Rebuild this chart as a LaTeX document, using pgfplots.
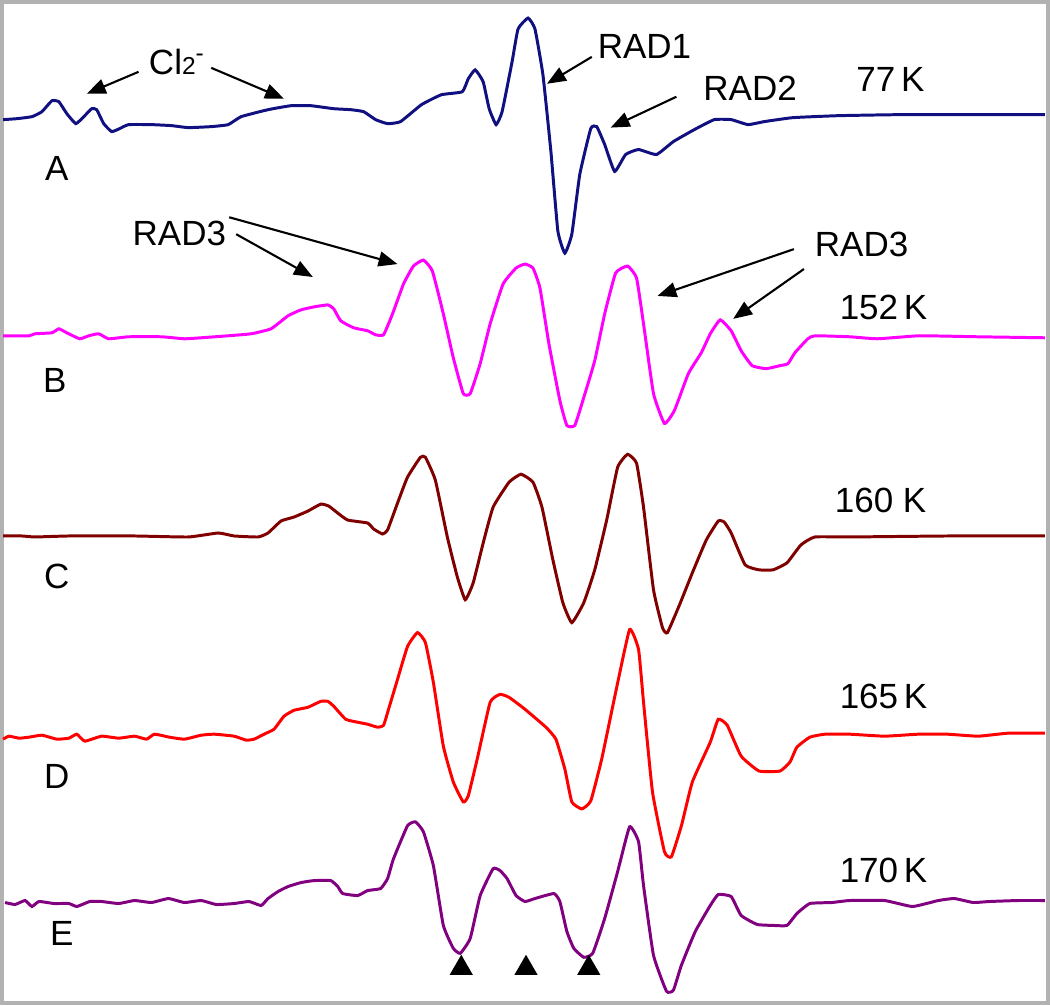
\documentclass[border=0pt]{standalone}
\usepackage{pgfplots}
\pgfplotsset{compat=1.18}
\usepackage{fontspec}
\setmainfont{Liberation Sans}
\usetikzlibrary{arrows.meta}
\definecolor{traceA}{RGB}{16,16,128}
\definecolor{traceB}{RGB}{255,0,255}
\definecolor{traceC}{RGB}{128,0,0}
\definecolor{traceD}{RGB}{255,0,0}
\definecolor{traceE}{RGB}{128,0,128}
\begin{document}
\begin{tikzpicture}
\begin{axis}[
    scale only axis,
    width=10.5cm, height=10.05cm,
    xmin=0, xmax=1050, ymin=0, ymax=1005,
    y dir=reverse,
    xtick=\empty, ytick=\empty,
    axis line style={gray!60, line width=1.2pt},
    clip=true,
    every axis plot/.append style={line width=0.85pt, smooth, tension=0.25},
    font=\fontsize{10}{12}\selectfont,
]
% A, 77 K
\addplot[traceA] coordinates {
 (1,118) (15,117) (30,115) (40,110) (50,99) (57,100) (65,112) (74,122) (82,115)
 (90,107) (95,108) (102,122) (110,130) (118,127) (127,123) (150,123) (170,124)
 (187,126) (210,125) (227,123) (240,115) (267,108) (290,104) (310,104) (333,107)
 (350,108) (363,110) (375,118) (387,122) (400,120) (421,103) (441,93) (462,90)
 (468,77) (475,68) (483,80) (489,107) (496,123) (502,110) (512,60) (518,27)
 (528,16) (535,27) (543,73) (551,150) (558,230) (565,252) (572,233) (580,173)
 (591,127) (597,125) (605,143) (615,170) (626,153) (639,148) (657,153) (674,140)
 (695,128) (715,118) (732,118) (749,123) (765,120) (794,116) (840,114) (900,113)
 (960,113) (1047,113)
};
% B, 152 K
\addplot[traceB] coordinates {
 (1,335) (27,335) (33,333) (50,332) (57,328) (65,332) (78,338) (87,335) (97,333)
 (107,338) (127,336) (160,336) (183,338) (200,337) (227,335) (250,333) (270,328)
 (287,315) (300,309) (313,306) (327,304) (333,308) (340,320) (353,327) (367,330)
 (375,334) (383,334) (392,313) (403,283) (413,265) (423,259) (432,270) (443,313)
 (453,357) (463,393) (470,393) (480,363) (490,323) (503,283) (516,267) (525,263)
 (533,267) (540,287) (549,343) (560,400) (567,425) (575,425) (584,397) (595,360)
 (605,313) (616,272) (628,265) (637,277) (644,323) (654,393) (665,423) (675,410)
 (689,373) (702,352) (711,333) (721,319) (732,330) (742,350) (753,365) (767,368)
 (781,365) (789,363) (796,352) (809,338) (816,335) (851,336) (879,338) (921,335)
 (980,336) (1047,337)
};
% C, 160 K
\addplot[traceC] coordinates {
 (1,536) (20,536) (33,537) (67,536) (133,536) (187,537) (217,533) (233,536)
 (257,537) (267,533) (280,521) (293,517) (307,511) (320,504) (328,506) (337,513)
 (347,520) (367,523) (373,529) (382,534) (387,530) (397,503) (407,477) (420,457)
 (425,457) (435,480) (447,537) (457,577) (465,600) (473,583) (483,543) (493,507)
 (509,482) (521,474) (533,482) (542,507) (553,560) (563,603) (572,623) (584,603)
 (595,570) (607,520) (618,467) (628,454) (637,463) (644,507) (654,590) (663,628)
 (668,633) (681,603) (693,573) (707,540) (719,521) (725,522) (732,533) (746,565)
 (760,570) (774,570) (788,563) (802,545) (816,537) (851,537) (950,536) (1047,536)
};
% D, 165 K
\addplot[traceD] coordinates {
 (1,740) (7,737) (17,739) (27,738) (40,736) (55,740) (67,739) (75,735) (83,742)
 (100,737) (117,739) (133,737) (145,740) (153,735) (168,738) (183,740) (200,736)
 (213,735) (233,737) (245,741) (253,740) (263,735) (273,730) (283,717) (293,711)
 (307,708) (320,702) (327,702) (333,707) (345,720) (357,723) (367,725) (377,728)
 (383,726) (388,710) (397,680) (407,647) (417,633) (425,643) (433,683) (443,747)
 (453,783) (463,803) (468,797) (477,760) (490,703) (500,695) (509,698) (525,710)
 (546,728) (556,740) (565,770) (572,803) (582,810) (591,802) (602,760) (616,693)
 (630,630) (639,650) (644,703) (653,793) (665,853) (672,858) (682,827) (693,783)
 (711,743) (719,720) (728,726) (742,757) (760,772) (781,772) (791,763) (798,748)
 (811,738) (826,735) (851,735) (886,737) (920,735) (949,735) (980,737) (1010,734)
 (1047,734)
};
% E, 170 K
\addplot[traceE] coordinates {
 (3,904) (13,906) (23,902) (30,908) (37,903) (52,905) (67,905) (75,908) (88,903)
 (100,903) (117,905) (133,902) (150,904) (167,900) (183,904) (200,902) (215,906)
 (233,905) (248,903) (260,907) (267,900) (277,893) (287,888) (300,884) (313,882)
 (330,882) (337,888) (342,895) (357,897) (367,892) (380,890) (387,880) (393,860)
 (407,827) (415,823) (423,833) (433,867) (443,927) (453,950) (460,955) (470,940)
 (480,897) (493,870) (500,872) (507,880) (516,897) (525,903) (535,900) (554,895)
 (560,903) (567,933) (574,950) (584,959) (593,955) (605,920) (618,873) (630,828)
 (639,843) (644,887) (654,957) (667,993) (674,992) (682,967) (696,933) (711,907)
 (719,896) (732,898) (742,917) (758,926) (774,927) (788,927) (798,915) (811,905)
 (833,904) (851,902) (886,902) (914,908) (940,902) (956,900) (975,904) (991,903)
 (1020,902) (1047,902)
};
% markers under trace E
\addplot[only marks, mark=triangle*, mark size=3pt, black] coordinates {
 (461,970) (526,970) (589,970)
};

% letters and temperatures
\node at (axis cs:55,167) {A};
\node at (axis cs:53,380) {B};
\node at (axis cs:55,577) {C};
\node at (axis cs:55,777) {D};
\node at (axis cs:60,935) {E};
\node at (axis cs:892,78) {77\,K};
\node at (axis cs:885,307) {152\,K};
\node at (axis cs:882,500) {160 K};
\node at (axis cs:885,697) {165\,K};
\node at (axis cs:885,872) {170\,K};

% annotations
\node at (axis cs:175,60) {Cl{\fontsize{7}{8}\selectfont 2}\raisebox{0.7ex}{\fontsize{7}{8}\selectfont -}};
\node at (axis cs:645,45) {RAD1};
\node at (axis cs:751,87) {RAD2};
\node at (axis cs:178,232) {RAD3};
\node at (axis cs:863,243) {RAD3};
\begin{scope}[line width=0.6pt, -{Triangle[length=1.9mm, width=1.5mm]}]
\draw (axis cs:137,70) -- (axis cs:85,92);
\draw (axis cs:210,66) -- (axis cs:283,97);
\draw (axis cs:592,55) -- (axis cs:547,82);
\draw (axis cs:677,95) -- (axis cs:611,126);
\draw (axis cs:228,216) -- (axis cs:397,263);
\draw (axis cs:235,233) -- (axis cs:312,276);
\draw (axis cs:795,248) -- (axis cs:658,295);
\draw (axis cs:805,268) -- (axis cs:734,318);
\end{scope}
\end{axis}
\end{tikzpicture}
\end{document}
